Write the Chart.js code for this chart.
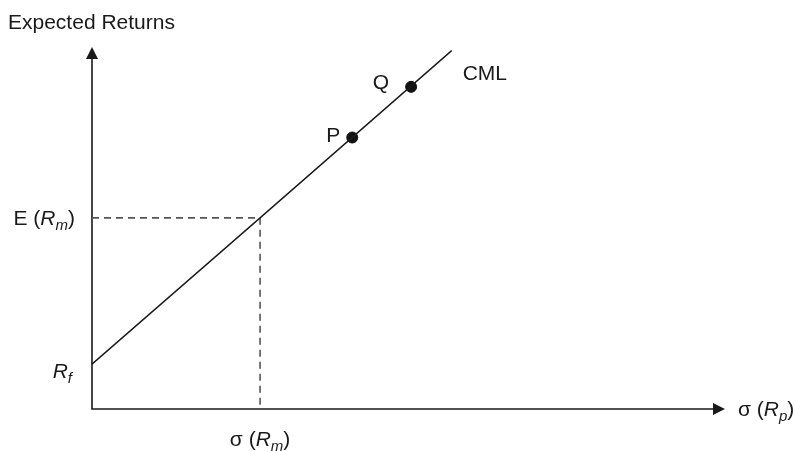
<!DOCTYPE html>
<html>
<head>
<meta charset="utf-8">
<script src="https://cdn.jsdelivr.net/npm/chart.js@4/dist/chart.umd.min.js"></script>
<style>
    html, body { margin: 0; padding: 0; background: #fff; }
    #wrap { width: 795px; height: 451px; position: relative; }
</style>
</head>
<body>
<div id="wrap"><canvas id="cml"></canvas></div>
<script>
// ==========================================
// Datos
// ==========================================
const rf = 12.4;                 // tasa libre de riesgo
const marketX = 25.7;            // σ(Rm)
const marketY = 52.8;            // E(Rm)
const cmlX = [0, marketX, 55];
const cmlY = [rf, marketY, 99];
const portNames = ['P', 'Q'];
const portX = [39.8, 48.8];
const portY = [75, 89];
const axisMaxX = 96.8;
const axisMaxY = 100;

const FONT = '"Liberation Sans", Arial, sans-serif';
const INK = '#1a1a1a';
const BIG = 21, SMALL = 15;
// desplazamiento de las etiquetas P / Q respecto al punto
const labelShift = { P: [-12, 4], Q: [-22, 2] };

// texto con cursiva / subíndice
function setFont(ctx, p) {
    ctx.font = (p.i ? 'italic ' : '') + (p.s ? SMALL : BIG) + 'px ' + FONT;
}
function drawRich(ctx, parts, x, y, align) {
    let w = 0;
    parts.forEach(p => { setFont(ctx, p); w += ctx.measureText(p.t).width; });
    let cx = x;
    if (align === 'right') cx = x - w;
    if (align === 'center') cx = x - w / 2;
    ctx.textBaseline = 'alphabetic';
    ctx.textAlign = 'left';
    parts.forEach(p => {
        setFont(ctx, p);
        ctx.fillText(p.t, cx, y + (p.s ? 5 : 0));
        cx += ctx.measureText(p.t).width;
    });
}

// ==========================================
// Plugin: ejes con flechas y etiquetas
// ==========================================
const axesPlugin = {
    id: 'axesPlugin',
    beforeDatasetsDraw(chart) {
        const { ctx, scales: { x, y } } = chart;
        const x0 = x.getPixelForValue(0), y0 = y.getPixelForValue(0);
        const xEnd = x.getPixelForValue(axisMaxX), yEnd = y.getPixelForValue(axisMaxY);
        ctx.save();
        ctx.strokeStyle = INK;
        ctx.fillStyle = INK;
        ctx.lineWidth = 1.6;
        ctx.beginPath();
        ctx.moveTo(x0, yEnd + 8);
        ctx.lineTo(x0, y0);
        ctx.lineTo(xEnd - 8, y0);
        ctx.stroke();
        // flecha vertical
        ctx.beginPath();
        ctx.moveTo(x0, yEnd);
        ctx.lineTo(x0 - 6, yEnd + 12);
        ctx.lineTo(x0 + 6, yEnd + 12);
        ctx.closePath();
        ctx.fill();
        // flecha horizontal
        ctx.beginPath();
        ctx.moveTo(xEnd, y0);
        ctx.lineTo(xEnd - 12, y0 - 6);
        ctx.lineTo(xEnd - 12, y0 + 6);
        ctx.closePath();
        ctx.fill();
        ctx.restore();
    },
    afterDraw(chart) {
        const { ctx, scales: { x, y } } = chart;
        const x0 = x.getPixelForValue(0), y0 = y.getPixelForValue(0);
        ctx.save();
        ctx.fillStyle = INK;
        drawRich(ctx, [{ t: 'Expected Returns' }], 8, 29, 'left');
        drawRich(ctx, [{ t: 'E (' }, { t: 'R', i: 1 }, { t: 'm', i: 1, s: 1 }, { t: ')' }],
            x0 - 17, y.getPixelForValue(marketY) + 7, 'right');
        drawRich(ctx, [{ t: 'R', i: 1 }, { t: 'f', i: 1, s: 1 }],
            x0 - 20, y.getPixelForValue(rf) + 14, 'right');
        drawRich(ctx, [{ t: 'σ (' }, { t: 'R', i: 1 }, { t: 'm', i: 1, s: 1 }, { t: ')' }],
            x.getPixelForValue(marketX), y0 + 37, 'center');
        drawRich(ctx, [{ t: 'σ (' }, { t: 'R', i: 1 }, { t: 'p', i: 1, s: 1 }, { t: ')' }],
            x.getPixelForValue(axisMaxX) + 13, y0 + 7, 'left');
        portNames.forEach((n, i) => {
            const [dx, dy] = labelShift[n];
            drawRich(ctx, [{ t: n }], x.getPixelForValue(portX[i]) + dx, y.getPixelForValue(portY[i]) + dy, 'right');
        });
        drawRich(ctx, [{ t: 'CML' }], x.getPixelForValue(cmlX[2]) + 11, y.getPixelForValue(cmlY[2]) + 29, 'left');
        ctx.restore();
    }
};

// ==========================================
// Gráfica
// ==========================================
new Chart(document.getElementById('cml'), {
    type: 'scatter',
    data: {
        datasets: [
            {
                label: 'CML',
                data: cmlX.map((v, i) => ({ x: v, y: cmlY[i] })),
                showLine: true,
                borderColor: INK,
                borderWidth: 1.4,
                pointRadius: 0,
                clip: false
            },
            {
                label: 'guia',
                data: [{ x: 0, y: marketY }, { x: marketX, y: marketY }, { x: marketX, y: 0 }],
                showLine: true,
                borderColor: '#555',
                borderWidth: 1.6,
                borderDash: [7, 5],
                pointRadius: 0,
                clip: false
            },
            {
                label: 'portafolios',
                data: portX.map((v, i) => ({ x: v, y: portY[i] })),
                backgroundColor: '#111',
                borderColor: '#111',
                pointRadius: 5.5,
                clip: false
            }
        ]
    },
    options: {
        responsive: true,
        maintainAspectRatio: false,
        animation: false,
        layout: { padding: { left: 92, right: 70, top: 47, bottom: 42 } },
        plugins: { legend: { display: false }, tooltip: { enabled: false } },
        scales: {
            x: { type: 'linear', min: 0, max: axisMaxX, display: false },
            y: { type: 'linear', min: 0, max: axisMaxY, display: false }
        }
    },
    plugins: [axesPlugin]
});
</script>
</body>
</html>
